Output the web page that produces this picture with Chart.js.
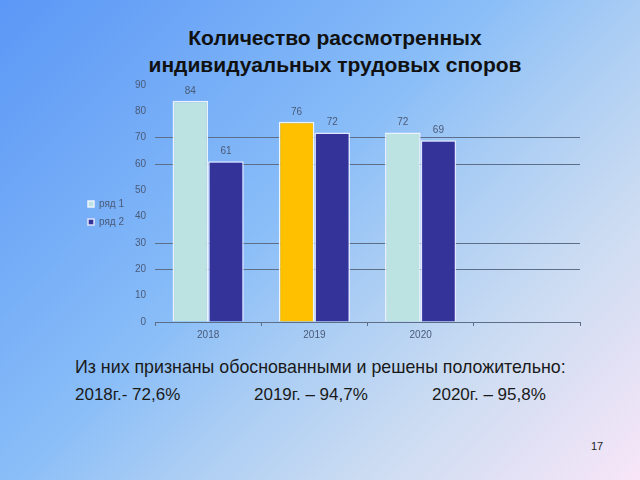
<!DOCTYPE html>
<html>
<head>
<meta charset="utf-8">
<script src="https://cdn.jsdelivr.net/npm/chart.js@4.4.0/dist/chart.umd.min.js"></script>
<style>
  body { margin: 0; }
  #slide {
    position: relative; width: 640px; height: 480px; overflow: hidden;
    background: linear-gradient(135deg, #5b97f6 0%, #88bdf8 43%, #a8ccf4 57%, #cbdcf2 75%, #f8e6f8 100%);
    font-family: "Liberation Sans", Arial, sans-serif;
  }
  #title {
    position: absolute; left: 0; width: 670px; top: 24px; text-align: center;
    font-weight: bold; font-size: 21px; line-height: 27px; color: #111;
  }
  #chartBox { position: absolute; left: 80px; top: 70px; width: 502px; height: 280px; }
  .txt { position: absolute; font-size: 17px; color: #1a1a1a; white-space: nowrap; }
  #page { position: absolute; left: 591px; top: 440px; font-size: 11px; color: #222; }
</style>
</head>
<body>
<div id="slide">
  <div id="title">Количество рассмотренных<br>индивидуальных трудовых споров</div>
  <div id="chartBox"><canvas id="barChart"></canvas></div>
  <div class="txt" style="left:75px; top:357px; font-size:17.8px;">Из них признаны обоснованными и решены положительно:</div>
  <div class="txt" style="left:75px; top:385px;">2018г.- 72,6%</div>
  <div class="txt" style="left:254px; top:385px;">2019г. – 94,7%</div>
  <div class="txt" style="left:432px; top:385px;">2020г. – 95,8%</div>
  <div id="page">17</div>
</div>
<script>
document.addEventListener("DOMContentLoaded", function () {
  const years = ["2018", "2019", "2020", ""];
  const series1 = [84, 76, 72, null];
  const series2 = [61, 72, 69, null];
  const seriesNames = ["ряд 1", "ряд 2"];

  const axisColor = "#5d6e88";
  const textColor = "#4a5a78";
  const shownGrid = [0, 20, 30, 60, 70];
  const fontFamily = '"Liberation Sans", Arial, sans-serif';

  const valueLabels = {
    id: 'valueLabels',
    afterDatasetsDraw(chart) {
      const { ctx } = chart;
      ctx.save();
      ctx.font = '10px ' + fontFamily;
      ctx.fillStyle = textColor;
      ctx.textAlign = 'center';
      ctx.textBaseline = 'bottom';
      chart.data.datasets.forEach((ds, i) => {
        chart.getDatasetMeta(i).data.forEach((bar, j) => {
          if (ds.data[j] == null) return;
          ctx.fillText(ds.data[j], bar.x, bar.y - 5);
        });
      });
      ctx.restore();
    }
  };

  const ctx = document.getElementById("barChart").getContext("2d");
  new Chart(ctx, {
    type: "bar",
    data: {
      labels: years,
      datasets: [
        {
          label: seriesNames[0],
          data: series1,
          backgroundColor: (c) => c.dataIndex === 1 ? "#ffc000" : "#bde2e2",
          borderColor: "rgba(240,246,255,0.95)",
          borderWidth: 1.5,
        },
        {
          label: seriesNames[1],
          data: series2,
          backgroundColor: "#333399",
          borderColor: "rgba(232,232,255,0.95)",
          borderWidth: 1.5,
        }
      ]
    },
    options: {
      responsive: true,
      maintainAspectRatio: false,
      animation: false,
      categoryPercentage: 0.67,
      barPercentage: 1,
      layout: { padding: { left: 0, right: 2, top: 12, bottom: 6 } },
      plugins: {
        legend: {
          position: "left",
          labels: {
            boxWidth: 6, boxHeight: 6, padding: 8,
            color: textColor,
            font: { family: fontFamily, size: 10 }
          }
        },
        tooltip: { enabled: false }
      },
      scales: {
        x: {
          grid: { drawOnChartArea: false, color: axisColor, tickLength: 4 },
          border: { color: axisColor },
          ticks: { color: textColor, padding: 3, font: { family: fontFamily, size: 10 } }
        },
        y: {
          min: 0, max: 90,
          border: { display: false },
          afterFit(scale) { scale.width = 21; },
          grid: {
            drawTicks: false,
            color: (c) => shownGrid.includes(c.tick.value) ? axisColor : "rgba(0,0,0,0)"
          },
          ticks: { stepSize: 10, color: textColor, padding: 9, font: { family: fontFamily, size: 10 } }
        }
      }
    },
    plugins: [valueLabels]
  });
});
</script>
</body>
</html>
